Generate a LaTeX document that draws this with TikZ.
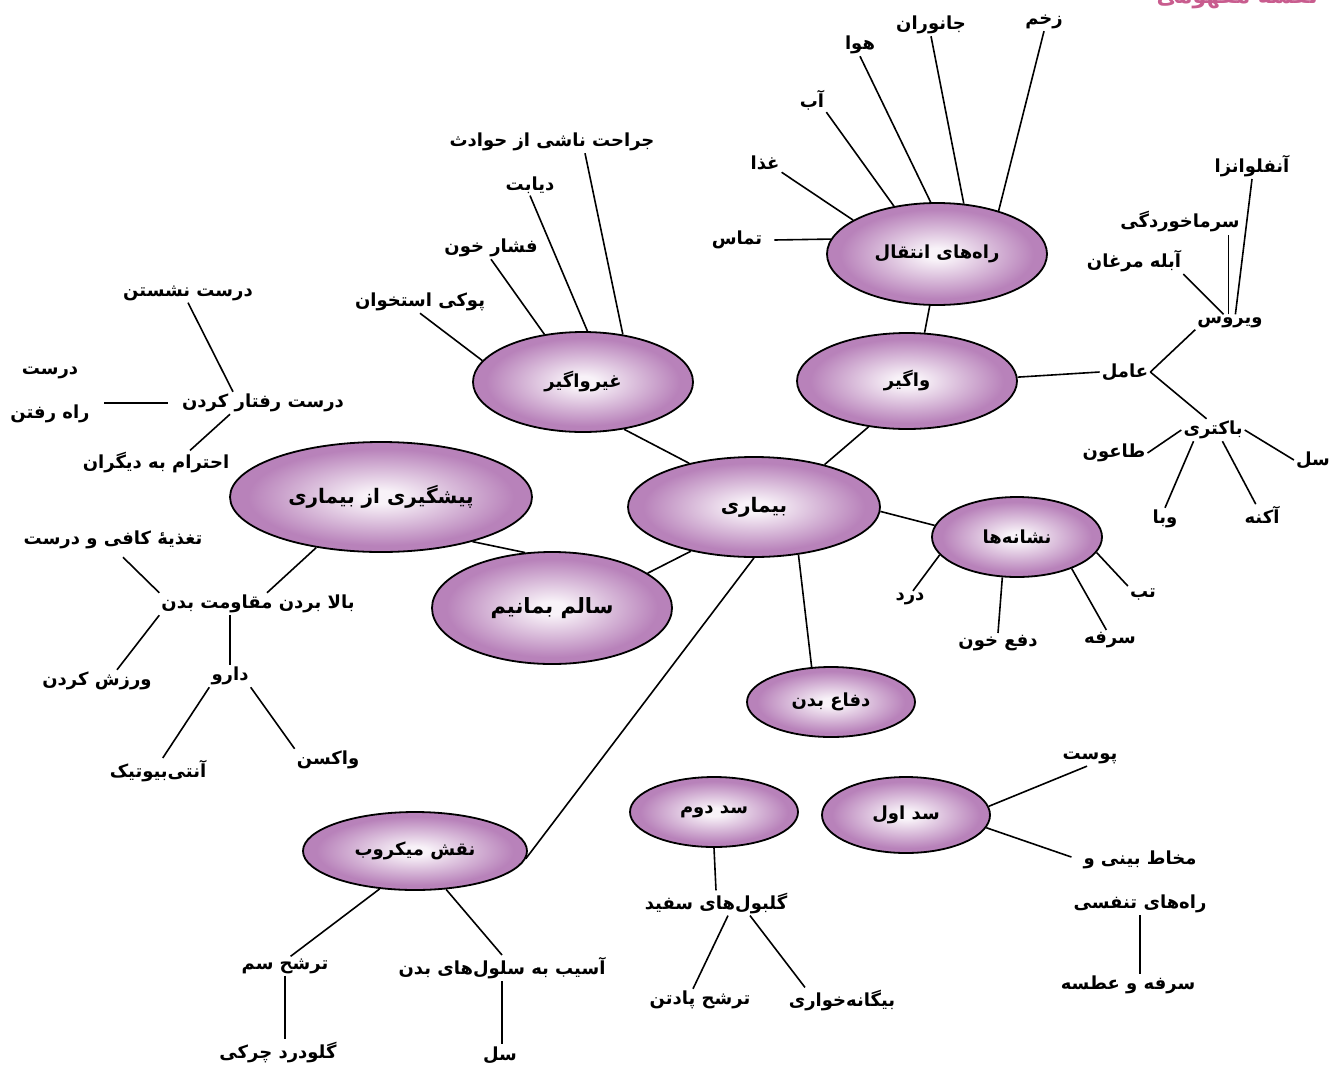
\documentclass[tikz,border=0pt]{standalone}
\usepackage{fontspec}
\usetikzlibrary{shapes.geometric}
\TeXXeTstate=1
\newfontfamily\farsifont[Script=Arabic]{DejaVu Sans}
\newcommand{\fatx}[1]{{\farsifont\beginR #1\endR}}
\definecolor{bubin}{RGB}{248,242,248}
\definecolor{bubout}{RGB}{184,130,186}
\definecolor{titlepink}{RGB}{200,92,142}
\pgfdeclareradialshading{bubble}{\pgfpoint{0bp}{0bp}}{color(0bp)=(bubin); color(3bp)=(bubin); color(22bp)=(bubout); color(50bp)=(bubout)}
\tikzset{
  bub/.style = {ellipse, draw=black, line width=1.8pt, shading=bubble,
                inner sep=0pt, font=\bfseries\fontsize{18}{21}\selectfont},
  lbl/.style = {inner sep=2pt, font=\bfseries\fontsize{18}{21}\selectfont},
  link/.style = {line width=1.6pt}
}
\begin{document}
\begin{tikzpicture}[x=1pt,y=-1pt]
    \useasboundingbox (0,0) rectangle (1332,1068);
    % title, cut by the page edge
    \node[anchor=base east, inner sep=0pt, text=titlepink,
          font=\bfseries\fontsize{22}{24}\selectfont] (title) at (1318,3) {\fatx{نقشهٔ مفهومی}};
    % ellipses
    \node[bub, minimum width=220pt, minimum height=102pt] (rahha) at (937,254) {\fatx{راه‌های انتقال}};
    \node[bub, minimum width=220pt, minimum height=96pt] (vagir) at (907,381) {\fatx{واگیر}};
    \node[bub, minimum width=220pt, minimum height=100pt] (gheyr) at (583,382) {\fatx{غیرواگیر}};
    \node[bub, minimum width=252pt, minimum height=100pt, font=\bfseries\fontsize{20}{22}\selectfont] (bimari) at (754,507) {\fatx{بیماری}};
    \node[bub, minimum width=302pt, minimum height=110pt, font=\bfseries\fontsize{20}{22}\selectfont] (pishgiri) at (381,497) {\fatx{پیشگیری از بیماری}};
    \node[bub, minimum width=240pt, minimum height=112pt, font=\bfseries\fontsize{21}{24}\selectfont] (salem) at (552,608) {\fatx{سالم بمانیم}};
    \node[bub, minimum width=170pt, minimum height=80pt] (neshaneh) at (1017,537) {\fatx{نشانه‌ها}};
    \node[bub, minimum width=168pt, minimum height=70pt] (defa) at (831,702) {\fatx{دفاع بدن}};
    \node[bub, minimum width=168pt, minimum height=70pt] (sad2) at (714,812) {\fatx{سد دوم}};
    \node[bub, minimum width=168pt, minimum height=76pt] (sad1) at (906,815) {\fatx{سد اول}};
    \node[bub, minimum width=224pt, minimum height=78pt] (naqsh) at (415,851) {\fatx{نقش میکروب}};
    % labels
    \foreach \x/\y/\nm/\tx in {1044/22/zakhm/زخم, 931/25/janvaran/جانوران, 860/45/hava/هوا,
        812/100/ab/آب, 765/163/ghaza/غذا, 737/240/tamas/تماس,
        552/142/jerahat/جراحت ناشی از حوادث, 530/185/diabet/دیابت,
        491/248/feshar/فشار خون, 420/302/pooki/پوکی استخوان,
        188/293/neshastan/درست نشستن, 263/403/raftar/درست رفتار کردن,
        156/463/ehteram/احترام به دیگران, 113/540/taghzieh/تغذیهٔ کافی و درست,
        258/604/bala/بالا بردن مقاومت بدن, 97/681/varzesh/ورزش کردن,
        230/676/daru/دارو, 158/771/antibio/آنتی‌بیوتیک, 328/760/vaksan/واکسن,
        1252/166/anflu/آنفلوانزا, 1180/222/sarma/سرماخوردگی,
        1134/261/abeleh/آبله مرغان, 1230/322/virus/ویروس, 1125/372/amel/عامل,
        1213/430/bacteri/باکتری, 1114/453/taun/طاعون, 1313/460/sel1/سل,
        1165/519/vaba/وبا, 1262/515/akneh/آکنه,
        1143/594/tab/تب, 1110/640/sorfeh/سرفه, 998/643/dafkhun/دفع خون, 910/599/dard/درد,
        1090/758/poost/پوست, 1128/985/sorfeatseh/سرفه و عطسه,
        716/903/golbol/گلبول‌های سفید, 700/1000/padtan/ترشح پادتن, 842/1000/biganeh/بیگانه‌خواری,
        502/968/asib/آسیب به سلول‌های بدن, 500/1055/sel2/سل,
        285/966/tsam/ترشح سم, 278/1052/gulu/گلودرد چرکی}
        \node[lbl] (\nm) at (\x,\y) {\fatx{\tx}};
    \node[lbl, align=center, font=\bfseries\fontsize{18}{44}\selectfont] (rahraftan) at (50,395) {\fatx{درست}\\\fatx{راه رفتن}};
    \node[lbl, align=center, font=\bfseries\fontsize{18}{44}\selectfont] (mokhat) at (1140,882) {\fatx{مخاط بینی و}\\\fatx{راه‌های تنفسی}};
    % connectors
    \draw[link] (rahha.35) -- (zakhm.south);
    \draw[link] (rahha.62) -- (janvaran.south);
    \draw[link] (rahha.97) -- (hava.south);
    \draw[link] (rahha.132) -- (ab.south east);
    \draw[link] (rahha.158) -- (ghaza.south east);
    \draw[link] (rahha.172) -- ([xshift=10pt]tamas.east);
    \draw[link] (rahha.262) -- (vagir.70);
    \draw[link] (vagir.230) -- (bimari.31);
    \draw[link] (vagir.2) -- (amel.west);
    \draw[link] (amel.east) -- (virus.south west);
    \draw[link] (amel.east) -- (bacteri.120);
    \draw[link] (abeleh.south east) -- (virus.130);
    \draw[link] (virus.100) -- (virus.100 |- sarma.south);
    \draw[link] (anflu.south) -- (virus.55);
    \draw[link] (bacteri.west) -- (taun.east);
    \draw[link] (bacteri.east) -- (sel1.west);
    \draw[link] (bacteri.210) -- (vaba.north);
    \draw[link] (bacteri.-50) -- (akneh.120);
    \draw[link] (bimari.-2) -- (neshaneh.172);
    \draw[link] (neshaneh.-11) -- (tab.north west);
    \draw[link] (neshaneh.-30) -- (sorfeh.110);
    \draw[link] (neshaneh.-110) -- (dafkhun.north);
    \draw[link] (neshaneh.193) -- (dard.70);
    \draw[link] (bimari.146) -- (gheyr.-49);
    \draw[link] (gheyr.168) -- (pooki.south);
    \draw[link] (gheyr.129) -- (feshar.south);
    \draw[link] (gheyr.85) -- (diabet.south);
    \draw[link] (gheyr.50) -- ([xshift=33pt]jerahat.south);
    \draw[link] (bimari.215) -- (salem.20);
    \draw[link] (pishgiri.-26) -- (salem.116);
    \draw[link] (pishgiri.218) -- ([xshift=9pt]bala.north);
    \draw[link] (bala.north west) -- ([xshift=10pt, yshift=-6pt]taghzieh.south);
    \draw[link] (bala.south west) -- ([xshift=20pt]varzesh.north);
    \draw[link] (daru.north) -- (daru.north |- bala.south);
    \draw[link] (daru.south west) -- (antibio.70);
    \draw[link] (daru.south east) -- (vaksan.north west);
    \draw[link] (neshastan.south) -- ([xshift=-30pt]raftar.north);
    \draw[link, shorten <=12pt, shorten >=12pt] (raftar.west) -- (raftar.west -| rahraftan.east);
    \draw[link] ([xshift=34pt]ehteram.north) -- ([xshift=-33pt]raftar.south);
    \draw[link] (bimari.-47) -- (defa.119);
    \draw[link] (bimari.south) -- (naqsh.-4);
    \draw[link] (naqsh.227) -- (tsam.60);
    \draw[link] (naqsh.-51) -- (asib.north);
    \draw[link] (tsam.south) -- (tsam.south |- gulu.north);
    \draw[link] (asib.south) -- (asib.south |- sel2.north);
    \draw[link] (sad2.south) -- (golbol.north);
    \draw[link] ([xshift=12pt]golbol.south) -- ([xshift=-7pt]padtan.north);
    \draw[link] ([xshift=34pt]golbol.south) -- ([xshift=-37pt]biganeh.north);
    \draw[link] (sad1.6) -- (poost.250);
    \draw[link] (sad1.-9) -- (mokhat.160);
    \draw[link] (mokhat.south) -- (mokhat.south |- sorfeatseh.north);
\end{tikzpicture}
\end{document}
